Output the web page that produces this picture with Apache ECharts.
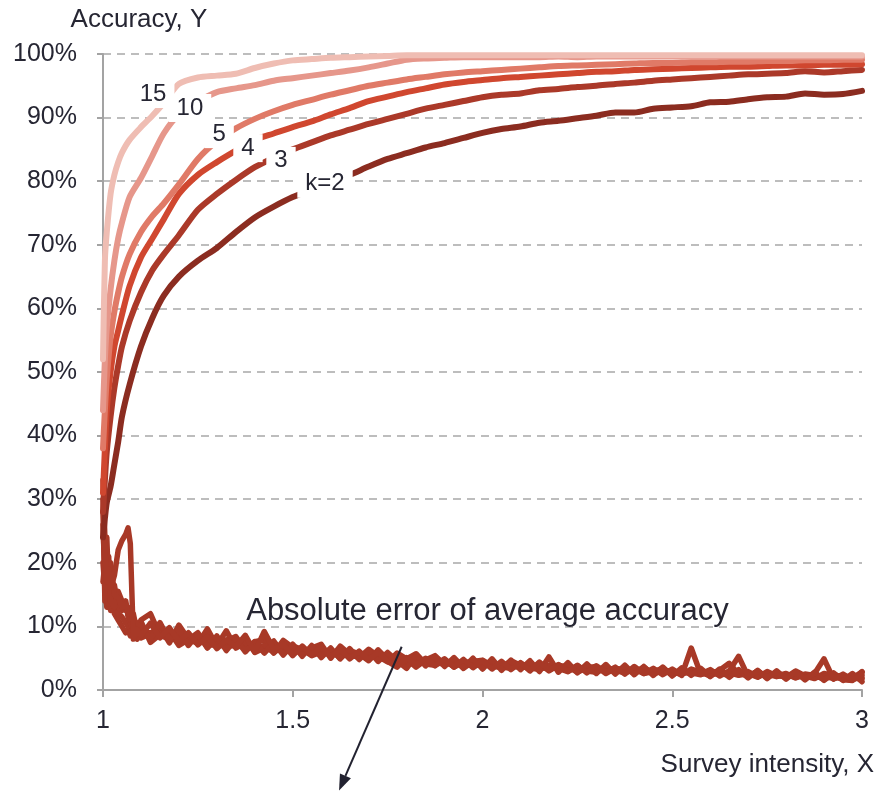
<!DOCTYPE html>
<html><head><meta charset="utf-8">
<script src="https://cdn.jsdelivr.net/npm/echarts@6/dist/echarts.min.js"></script>
<style>html,body{margin:0;padding:0;background:#fff}#c{width:876px;height:793px}</style>
</head><body><div id="c"></div>
<script>
// ---- accuracy curves: shared x grid ----
const accX = [1.0,1.005,1.01,1.02,1.03,1.04,1.05,1.07,1.1,1.13,1.16,1.2,1.25,1.3,1.35,1.4,1.45,
  1.5,1.55,1.6,1.65,1.7,1.75,1.8,1.85,1.9,1.95,2.0,
  2.05,2.1,2.15,2.2,2.25,2.3,2.35,2.4,2.45,2.5,
  2.55,2.6,2.65,2.7,2.75,2.8,2.85,2.9,2.95,3.0];
const acc_k2 = [24,27,29.5,32,35.5,39,43,48,54,58.5,62,65,67.5,69.5,72,74.3,76,
  77.5,78.7,79.9,81,82.3,83.5,84.4,85.3,86,86.8,87.6,
  88.2,88.6,89.2,89.5,89.9,90.3,90.8,90.8,91.4,91.6,
  91.8,92.4,92.5,92.9,93.2,93.3,93.8,93.6,93.7,94.2];
const acc_k3 = [28,33,37.5,43,47.5,51,54,58,62.5,66,68.5,71.5,75.5,78,80.2,82.2,83.7,
  85,86.1,87.2,88.1,89,89.8,90.6,91.4,92,92.6,93.2,
  93.6,93.8,94.3,94.5,94.8,95,95.3,95.5,95.8,96,
  96.2,96.4,96.6,96.8,96.9,97,97.3,97.1,97.3,97.5];
const acc_k4 = [31,38,44,50,54,56.5,59,63.5,68,71,74,78,81,83,84.8,86.5,87.5,
  88.5,89.4,90.5,91.5,92.6,93.3,94,94.6,95.2,95.6,95.9,
  96.2,96.4,96.6,96.8,97,97.2,97.3,97.5,97.6,97.7,
  97.8,97.9,98,98,98.1,98.2,98.2,98.3,98.3,98.4];
const acc_k5 = [38,44,49,55.5,59.5,62.5,65,68.5,72,74.5,76.5,79.5,83.5,86.3,88.3,89.8,91,
  92,92.8,93.6,94.3,95,95.5,96,96.4,96.8,97.1,97.3,
  97.5,97.7,97.9,98.1,98.2,98.3,98.4,98.5,98.6,98.6,
  98.7,98.7,98.8,98.8,98.9,98.9,99,99,99.1,99.1];
const acc_k10 = [44,52,57,63,67.5,71,73.5,77.5,80.5,84,87.5,90.5,92.5,94,94.6,95.1,95.8,
  96.2,96.6,97,97.4,97.9,98.5,99.1,99.3,99.4,99.5,99.5,
  99.5,99.5,99.5,99.6,99.5,99.6,99.6,99.6,99.6,99.6,
  99.6,99.6,99.6,99.6,99.6,99.6,99.6,99.6,99.6,99.6];
const acc_k15 = [52,67.5,72,78,81,83,84.5,86.5,88.5,90.3,92.3,95.3,96.3,96.6,96.9,97.8,98.5,
  99,99.2,99.4,99.5,99.6,99.7,99.8,99.8,99.8,99.8,99.8,
  99.8,99.8,99.8,99.8,99.8,99.8,99.8,99.8,99.8,99.8,
  99.8,99.8,99.8,99.8,99.8,99.8,99.8,99.8,99.8,99.8];

// ---- absolute error curves: x grid ----
const errX = [1.0,1.005,1.01,1.015,1.02,1.03,1.04,1.05,1.06,1.066,1.072,1.08,1.09,1.1,
  1.125,1.15,1.175,1.2,1.225,1.25,1.275,1.3,1.325,1.35,1.375,1.4,1.425,1.45,1.475,1.5,
  1.525,1.55,1.575,1.6,1.625,1.65,1.675,1.7,1.725,1.75,1.775,1.8,1.825,1.85,1.875,1.9,1.925,1.95,1.975,2.0,
  2.025,2.05,2.075,2.1,2.125,2.15,2.175,2.2,2.225,2.25,2.275,2.3,2.325,2.35,2.375,2.4,2.425,2.45,2.475,2.5,
  2.525,2.55,2.575,2.6,2.625,2.65,2.675,2.7,2.725,2.75,2.775,2.8,2.825,2.85,2.875,2.9,2.925,2.95,2.975,3.0];
const err_a = [30,22,17,19,16,18,22,23.5,24.5,25.5,23,8,9.5,8.5,
  10.5,8.2,9.8,7.6,9.0,7.1,8.4,6.5,7.9,6.8,8.6,6.0,9.2,6.4,7.2,5.4,
  6.9,5.5,6.8,5.2,6.4,4.9,6.1,4.7,6.0,4.5,3.6,5.1,3.9,5.0,3.8,4.9,3.6,4.8,3.5,4.6,
  3.3,4.5,3.2,4.3,3.0,4.4,3.1,4.0,2.9,3.9,2.7,3.8,2.8,3.6,2.5,3.7,2.6,3.4,2.4,3.3,
  2.3,6.6,2.5,3.2,2.2,3.0,5.3,2.1,3.0,2.0,2.8,1.9,2.7,1.8,2.6,4.9,1.7,2.5,1.6,2.4];
const err_b = [28,14,24,16,20,15,14.5,13,13.5,12,12.5,11,10.5,9.8,
  8.0,10.6,7.8,9.5,7.0,8.8,6.6,8.5,6.2,8.0,6.0,7.6,5.8,7.4,5.5,7.2,
  5.3,7.0,5.1,6.6,4.9,6.5,4.8,6.2,4.5,5.9,4.6,3.4,5.5,3.8,5.3,3.7,5.1,3.5,5.0,3.3,
  4.9,3.1,4.7,3.2,4.6,2.9,5.2,2.8,4.3,2.7,4.1,2.6,4.0,2.5,3.9,2.4,3.7,2.3,3.6,2.2,
  3.5,2.3,3.4,2.1,3.3,2.0,3.2,1.9,3.1,1.8,3.0,1.7,2.9,1.6,2.8,1.5,2.7,1.5,2.6,1.3];
const err_c = [33,24,15,21,14,13,15.5,14,12.5,13,11,12,9,11,
  12.0,8.6,8.0,8.9,7.6,8.2,7.2,7.0,9.3,6.6,7.4,6.5,7.0,5.9,6.9,6.1,
  6.5,5.8,6.3,5.6,5.9,5.3,5.8,5.2,5.5,5.0,5.3,4.6,4.2,4.4,4.3,4.1,4.4,3.9,4.2,3.8,
  4.1,3.6,3.9,3.5,3.8,3.4,3.7,3.3,3.5,3.2,3.4,3.1,3.3,3.0,3.2,2.9,3.1,2.8,3.0,2.7,
  2.9,2.6,2.8,2.5,2.7,2.4,2.6,2.3,2.5,2.2,2.4,2.1,2.3,2.0,2.2,1.9,2.1,1.8,2.0,1.7];
const err_d = [26,18,20,13.5,17,16.5,13,12.5,14,11.5,10.5,9.5,8,9,
  9.0,9.6,8.4,8.1,8.7,7.5,8.0,7.2,6.8,7.5,6.4,7.1,6.3,6.8,6.0,6.6,
  5.9,6.3,5.6,6.1,5.5,5.8,5.2,5.6,5.0,5.4,4.8,3.8,4.5,4.2,4.6,4.0,4.3,4.1,3.8,4.3,
  3.7,4.0,3.6,3.9,3.4,3.7,3.3,3.6,3.2,3.5,3.1,3.4,3.0,3.3,2.9,3.2,2.8,3.1,2.7,3.0,
  2.6,2.9,2.5,2.8,2.4,2.7,2.3,2.6,2.2,2.5,2.1,2.4,2.0,2.3,1.9,2.2,1.8,2.1,1.7,2.0];
const err_e = [20,16,13,15,12.5,14,12,11.5,10.5,10,11,9.5,8.8,8.2,
  8.8,9.9,7.4,10.2,8.0,7.3,9.6,6.9,7.7,8.4,6.3,7.6,7.9,5.8,7.8,6.7,
  5.6,6.6,7.2,5.0,6.9,5.6,5.1,6.4,5.3,4.4,5.8,4.9,3.6,4.7,5.4,4.0,4.8,3.4,4.5,4.7,
  3.8,3.5,4.6,3.9,3.3,4.2,3.0,3.9,3.6,2.8,3.5,3.7,2.6,3.4,3.2,2.7,3.6,2.5,3.1,2.9,
  2.4,3.3,2.8,2.2,3.1,4.2,2.5,2.9,2.1,2.7,2.4,2.0,3.0,2.2,1.8,2.6,2.3,1.6,1.5,2.9];
const err_f = [17,20,14,17,15,12,11,10,9,9.5,8.5,10.5,9.8,10.8,
  7.5,8.7,9.2,7.0,7.9,9.0,6.7,8.0,7.0,6.9,8.1,5.9,6.6,7.7,5.7,6.9,
  6.4,5.4,6.0,6.3,5.0,6.2,5.7,4.6,6.3,4.8,4.3,4.9,5.7,4.1,3.9,4.7,3.6,4.4,4.3,3.7,
  4.4,3.6,3.4,4.2,3.5,3.2,3.9,3.4,2.9,3.8,3.0,2.8,3.5,3.1,2.7,3.3,2.6,2.9,3.4,2.4,
  3.0,2.7,2.4,3.0,2.6,2.3,2.8,2.6,2.0,2.9,2.2,2.6,1.9,2.5,2.3,1.7,2.4,2.0,1.9,2.8];

// ---- curve labels (data coordinates) ----
const labelText = ['15','10','5','4','3','k=2'];
const labelX = [1.132,1.229,1.306,1.382,1.469,1.585];
const labelY = [93.7,91.5,87.4,85.2,83.2,79.6];
const errLabel = 'Absolute error of average accuracy';
const errLabelPos = [2.013, 12.3];
const arrowFrom = [1.787, 6.8];
const arrowTo = [1.622, -15.8];

const xTicks = [1, 1.5, 2, 2.5, 3];
const accColors = {k2:'#8B2C20', k3:'#AB3929', k4:'#D0472F', k5:'#E07A67', k10:'#E6978B', k15:'#EFBDB3'};
const errColor = '#A83927';
const txt = '#262633';
const FONT = '"Liberation Sans", Arial, sans-serif';

const pair = (xs, ys) => xs.map((x, i) => [x, ys[i]]);
const accSeries = (name, data, color) => ({
  name, type: 'line', data: pair(accX, data), showSymbol: false, symbol: 'none',
  smooth: 0.25,
  lineStyle: {color, width: 6, join: 'round', cap: 'round'}, z: 3, clip: false, silent: true
});
const errSeries = (name, data) => ({
  name, type: 'line', data: pair(errX, data), showSymbol: false, symbol: 'none',
  lineStyle: {color: errColor, width: 5.5, join: 'round', cap: 'round'}, z: 2, silent: true
});

const chart = echarts.init(document.getElementById('c'), null, {renderer: 'canvas'});
const titleGraphics = [
  {type: 'text', style: {x: 139, y: 20, text: 'Accuracy, Y', font: '26px ' + FONT, fill: txt, align: 'center', verticalAlign: 'middle'}},
  {type: 'text', style: {x: 874, y: 765, text: 'Survey intensity, X', font: '26px ' + FONT, fill: txt, align: 'right', verticalAlign: 'middle'}}
];
chart.setOption({
  animation: false,
  backgroundColor: '#fff',
  grid: {left: 103, right: 14, top: 54, bottom: 103, containLabel: false},
  xAxis: {
    type: 'value', min: 1, max: 3, interval: 0.5,
    axisLine: {show: true, lineStyle: {color: '#a3a3a3', width: 2}},
    axisTick: {show: true, length: 7, lineStyle: {color: '#a3a3a3', width: 2}},
    axisLabel: {color: txt, fontSize: 25, fontFamily: FONT, margin: 19,
      formatter: v => xTicks.includes(v) ? String(v) : ''},
    splitLine: {show: false}
  },
  yAxis: {
    type: 'value', min: 0, max: 100, interval: 10,
    axisLine: {show: true, lineStyle: {color: '#a3a3a3', width: 2}},
    axisTick: {show: true, length: 6, lineStyle: {color: '#a3a3a3', width: 2}},
    axisLabel: {color: txt, fontSize: 25, fontFamily: FONT, margin: 26, formatter: '{value}%'},
    splitLine: {show: true, lineStyle: {color: '#a8a8a8', width: 1.6, type: [8, 6]}}
  },
  graphic: titleGraphics,
  series: [
    errSeries('err6', err_f),
    errSeries('err5', err_e),
    errSeries('err4', err_d),
    errSeries('err3', err_c),
    errSeries('err2', err_b),
    errSeries('err1', err_a),
    accSeries('k=2', acc_k2, accColors.k2),
    accSeries('k=3', acc_k3, accColors.k3),
    accSeries('k=4', acc_k4, accColors.k4),
    accSeries('k=5', acc_k5, accColors.k5),
    accSeries('k=10', acc_k10, accColors.k10),
    accSeries('k=15', acc_k15, accColors.k15),
    {
      name: 'labels', type: 'scatter', symbolSize: 0, z: 10, clip: false, silent: true,
      itemStyle: {opacity: 1},
      data: labelText.map((t, i) => ({value: [labelX[i], labelY[i]], name: t})),
      label: {show: true, position: 'inside', formatter: p => p.name, color: txt, opacity: 1,
        textBorderWidth: 0, fontSize: 24, fontFamily: FONT, backgroundColor: '#ffffff', padding: [3, 8, 1, 8]}
    },
    {
      name: 'errText', type: 'scatter', symbolSize: 0, z: 10, clip: false, silent: true,
      itemStyle: {opacity: 1},
      data: [{value: errLabelPos, name: errLabel}],
      label: {show: true, position: 'inside', formatter: p => p.name, color: txt, opacity: 1,
        textBorderWidth: 0, fontSize: 31, fontFamily: FONT}
    }
  ]
});

// arrow annotation, placed from data coordinates
const p1 = chart.convertToPixel({gridIndex: 0}, arrowFrom);
const p2 = chart.convertToPixel({gridIndex: 0}, arrowTo);
const dx = p2[0] - p1[0], dy = p2[1] - p1[1];
const len = Math.sqrt(dx * dx + dy * dy), ux = dx / len, uy = dy / len;
const headL = 16, headW = 6;
const bx = p2[0] - ux * headL, by = p2[1] - uy * headL;
chart.setOption({
  graphic: titleGraphics.concat([
    {type: 'line', z: 20, shape: {x1: p1[0], y1: p1[1], x2: bx, y2: by}, style: {stroke: '#222230', lineWidth: 2}},
    {type: 'polygon', z: 20, shape: {points: [[p2[0], p2[1]], [bx - uy * headW, by + ux * headW], [bx + uy * headW, by - ux * headW]]}, style: {fill: '#222230'}}
  ])
});
</script></body></html>
